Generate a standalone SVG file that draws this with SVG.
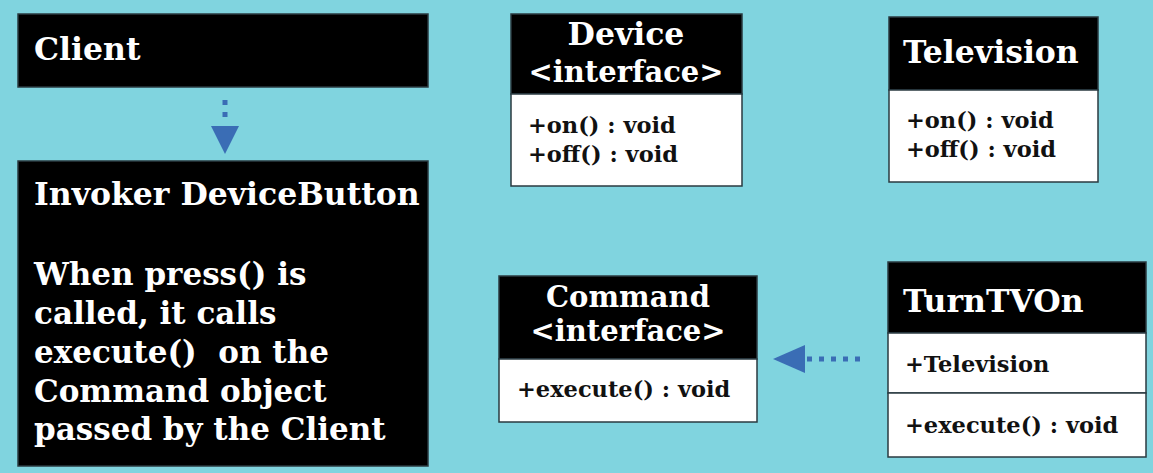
<svg xmlns="http://www.w3.org/2000/svg" width="1153" height="473" viewBox="0 0 1153 473">
<style>
.bg{fill:#80d4df}
.hd{fill:#000;stroke:#2a3a40;stroke-width:1.5}
.bd{fill:#fff;stroke:#2a3a40;stroke-width:1.5}
.t{font-family:"DejaVu Serif","Liberation Serif",serif;font-weight:bold}
.w{fill:#fff}
.k{fill:#111}
.h{font-size:31.5px}
.b{font-size:31px}
.s{font-size:29px}
.m{font-size:22.5px}
.c{text-anchor:middle}
.dash{stroke:#3a6db5;stroke-width:5;stroke-dasharray:5 7;fill:none}
.ah{fill:#3a6db5}
</style>
<rect class="bg" x="0" y="0" width="1153" height="473"/>
<g id="client">
<rect class="hd" x="18" y="14" width="410" height="73"/>
<text class="t w h" x="34" y="60">Client</text>
</g>
<g id="invoker">
<rect class="hd" x="18" y="161" width="410" height="305"/>
<text class="t w h" x="34" y="205">Invoker DeviceButton</text>
<text class="t w b" x="34" y="285">When press() is</text>
<text class="t w b" x="34" y="324">called, it calls</text>
<text class="t w b" x="34" y="363" xml:space="preserve">execute()  on the</text>
<text class="t w b" x="34" y="402">Command object</text>
<text class="t w b" x="34" y="440">passed by the Client</text>
</g>
<g id="device">
<rect class="hd" x="511" y="14" width="231" height="80"/>
<rect class="bd" x="511" y="94" width="231" height="92"/>
<text class="t w h c" x="626" y="45">Device</text>
<text class="t w s c" x="626" y="82">&lt;interface&gt;</text>
<text class="t k m" x="528" y="133">+on() : void</text>
<text class="t k m" x="528" y="162">+off() : void</text>
</g>
<g id="television">
<rect class="hd" x="889" y="17" width="209" height="73"/>
<rect class="bd" x="889" y="90" width="209" height="92"/>
<text class="t w h" x="903" y="63">Television</text>
<text class="t k m" x="906" y="128">+on() : void</text>
<text class="t k m" x="906" y="157">+off() : void</text>
</g>
<g id="command">
<rect class="hd" x="499" y="276" width="258" height="83"/>
<rect class="bd" x="499" y="359" width="258" height="63"/>
<text class="t w s c" x="628" y="307">Command</text>
<text class="t w s c" x="628" y="341">&lt;interface&gt;</text>
<text class="t k m" x="517" y="397">+execute() : void</text>
</g>
<g id="turntvon">
<rect class="hd" x="888" y="262" width="258" height="71"/>
<rect class="bd" x="888" y="333" width="258" height="60"/>
<rect class="bd" x="888" y="393" width="258" height="64"/>
<text class="t w h" x="903" y="312">TurnTVOn</text>
<text class="t k m" x="905" y="372">+Television</text>
<text class="t k m" x="905" y="433">+execute() : void</text>
</g>
<g id="connectors">
<line class="dash" x1="225" y1="100" x2="225" y2="124"/>
<polygon class="ah" points="211,126 239,126 225,154"/>
<line class="dash" x1="860" y1="359" x2="807" y2="359"/>
<polygon class="ah" points="773,359 805,345 805,373"/>
</g>
</svg>
